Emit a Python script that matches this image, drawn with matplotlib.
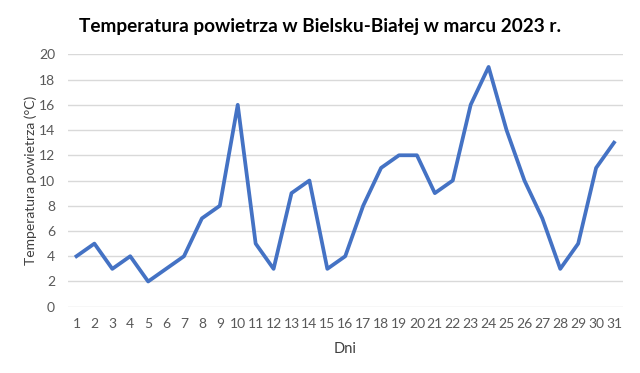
import matplotlib
matplotlib.use("Agg")
import matplotlib.pyplot as plt

days = list(range(1, 32))
temps = [4, 5, 3, 4, 2, 3, 4, 7, 8, 16, 5, 3, 9, 10, 3, 4, 8, 11, 12, 12,
         9, 10, 16, 19, 14, 10, 7, 3, 5, 11, 13]
yticks = list(range(0, 21, 2))

plt.rcParams['font.family'] = ['Lato', 'DejaVu Sans']

fig = plt.figure(figsize=(6.4, 3.73), dpi=100)
ax = fig.add_axes([0.1055, 0.1777, 0.8679, 0.6767])

ax.plot(days, temps, color='#4472C4', linewidth=2.7, solid_joinstyle='round', zorder=3)

ax.set_xlim(0.5, 31.5)
ax.set_ylim(0, 20)
ax.set_xticks(days)
ax.set_xticklabels([str(d) for d in days])
ax.set_yticks(yticks)
ax.grid(axis='y', color='#D9D9D9', linewidth=1.0)
ax.set_axisbelow(True)
for s in ax.spines.values():
    s.set_visible(False)
ax.tick_params(axis='both', length=0, labelsize=10, colors='#595959')
ax.tick_params(axis='x', pad=8)
ax.tick_params(axis='y', pad=9)

ax.set_xlabel('Dni', fontsize=10.5, color='#404040', labelpad=9)
ax.set_ylabel('Temperatura powietrza (°C)', fontsize=10, color='#404040', labelpad=1)
fig.text(0.5, 0.93, 'Temperatura powietrza w Bielsku-Białej w marcu 2023 r.',
         ha='center', va='center', fontsize=13.7, fontweight='bold', color='#000000')

fig.savefig('out.png', dpi=100)
